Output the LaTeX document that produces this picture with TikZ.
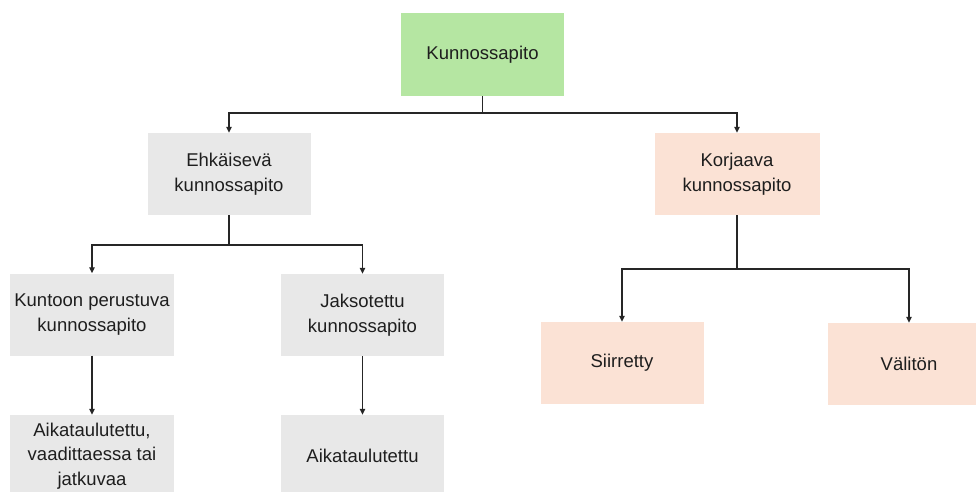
\documentclass[tikz,border=0pt]{standalone}
\usepackage{fontspec}
\setmainfont{Liberation Sans}
\usetikzlibrary{arrows.meta}
\definecolor{topgreen}{HTML}{B5E6A2}
\definecolor{boxgray}{HTML}{E8E8E8}
\definecolor{boxpeach}{HTML}{FBE2D5}
\definecolor{txt}{HTML}{1E1E1E}
\begin{document}
\begin{tikzpicture}[x=1pt,y=-1pt,
  box/.style={rectangle, minimum width=163pt, minimum height=82pt, inner sep=2pt,
    align=center, text=txt, font=\fontsize{18.5}{24.5}\selectfont},
  greenbox/.style={box, fill=topgreen},
  graybox/.style={box, fill=boxgray},
  peachbox/.style={box, fill=boxpeach},
  line/.style={draw=black!85, line width=1.3pt},
  arr/.style={line, -{Triangle[length=6pt,width=5.5pt]}}]
\useasboundingbox (0,0) rectangle (976,491);
\node[greenbox, minimum height=83pt] (top) at (482.5,54.5) {Kunnossapito};
\node[graybox] (ehk) at (229,174) {Ehkäisevä\\kunnossapito};
\node[peachbox, minimum width=165pt] (kor) at (737,174) {Korjaava\\kunnossapito};
\node[graybox, minimum width=164pt] (kun) at (92,314.5) {Kuntoon perustuva\\kunnossapito};
\node[graybox] (jak) at (362.5,315) {Jaksotettu\\kunnossapito};
\node[graybox, minimum width=164pt] (aik1) at (92,456) {Aikataulutettu,\\vaadittaessa tai\\jatkuvaa};
\node[graybox] (aik2) at (362.5,456) {Aikataulutettu};
\node[peachbox] (sii) at (622,363) {Siirretty};
\node[peachbox] (val) at (909,364) {Välitön};
\coordinate (j1) at (482.5,113);
\coordinate (j2) at (229,245);
\coordinate (j3) at (737,269);
\draw[line] (top.south) -- (j1);
\draw[arr] (j1) -| (ehk.north);
\draw[arr] (j1) -| (kor.north);
\draw[line] (ehk.south) -- (j2);
\draw[arr] (j2) -| (kun.north);
\draw[arr] (j2) -| (jak.north);
\draw[line] (kor.south) -- (j3);
\draw[arr] (j3) -| (sii.north);
\draw[arr] (j3) -| (val.north);
\draw[arr] (kun.south) -- (aik1.north);
\draw[arr] (jak.south) -- (aik2.north);
\end{tikzpicture}
\end{document}
